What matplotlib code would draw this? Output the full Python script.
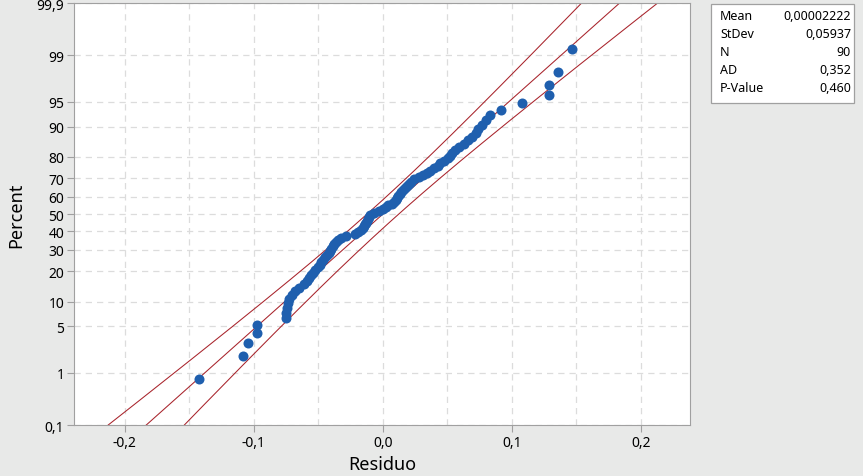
import numpy as np
import matplotlib
matplotlib.use('Agg')
import matplotlib.pyplot as plt
from statistics import NormalDist

plt.rcParams['font.family'] = ['Noto Sans', 'DejaVu Sans']

# residuos ordenados
residuo = [
    -0.1428, -0.1087, -0.1048, -0.0975, -0.0975, -0.0752, -0.0748, -0.0744, -0.0736, -0.0725,
    -0.0702, -0.0678, -0.0647, -0.0609, -0.0585, -0.0570, -0.0554, -0.0539, -0.0523, -0.0504,
    -0.0488, -0.0477, -0.0461, -0.0446, -0.0430, -0.0419, -0.0411, -0.0399, -0.0388, -0.0376,
    -0.0360, -0.0345, -0.0322, -0.0283, -0.0213, -0.0190, -0.0167, -0.0155, -0.0147, -0.0140,
    -0.0128, -0.0120, -0.0116, -0.0109, -0.0097, -0.0066, -0.0027, 0.0004, 0.0027, 0.0043,
    0.0074, 0.0089, 0.0105, 0.0112, 0.0120, 0.0132, 0.0143, 0.0159, 0.0174, 0.0190,
    0.0205, 0.0221, 0.0244, 0.0283, 0.0314, 0.0345, 0.0368, 0.0399, 0.0430, 0.0446,
    0.0477, 0.0508, 0.0523, 0.0539, 0.0562, 0.0593, 0.0632, 0.0663, 0.0694, 0.0725,
    0.0740, 0.0771, 0.0802, 0.0833, 0.0919, 0.1081, 0.1291, 0.1291, 0.1360, 0.1469,
]

# estatisticas da tabela
MEAN = 0.00002222
STDEV = 0.05937
N = 90
stats_labels = ['Mean', 'StDev', 'N', 'AD', 'P-Value']
stats_values = ['0,00002222', '0,05937', '90', '0,352', '0,460']

pct_ticks = [0.1, 1, 5, 10, 20, 30, 40, 50, 60, 70, 80, 90, 95, 99, 99.9]
pct_labels = ['0,1', '1', '5', '10', '20', '30', '40', '50', '60', '70', '80', '90', '95', '99', '99,9']
x_ticks = [-0.2, -0.1, 0.0, 0.1, 0.2]
x_labels = ['-0,2', '-0,1', '0,0', '0,1', '0,2']

nd = NormalDist()
z = lambda p: nd.inv_cdf(p / 100.0)

# posições de plotagem (median ranks)
ranks = np.arange(1, N + 1)
z_pts = np.array([nd.inv_cdf((i - 0.3) / (N + 0.4)) for i in ranks])

fig = plt.figure(figsize=(8.63, 4.77), dpi=100, facecolor='#e8e9e8')
ax = fig.add_axes([0.0857, 0.1069, 0.7138, 0.8847])
ax.set_facecolor('white')

# linha ajustada e bandas de confiança 95%
zz = np.linspace(-3.6, 3.6, 200)
fit = MEAN + STDEV * zz
half = 1.96 * STDEV / np.sqrt(N) * np.sqrt(1 + zz ** 2 / 2)
red = '#a8232b'
ax.plot(fit, zz, color=red, lw=0.75)
ax.plot(fit - half, zz, color=red, lw=0.75)
ax.plot(fit + half, zz, color=red, lw=0.75)

ax.scatter(residuo, z_pts, s=52, color='#1f5fae', zorder=3, linewidths=0)

ax.set_xlim(-0.2395, 0.2380)
ax.set_ylim(z(0.1), z(99.9))
ax.set_yticks([z(p) for p in pct_ticks])
ax.set_yticklabels(pct_labels)
ax.set_xticks(x_ticks)
ax.set_xticklabels(x_labels)
ax.set_xticks([-0.15, -0.05, 0.05, 0.15], minor=True)

ax.grid(True, which='both', axis='x', color='#dcdcdc', ls=(0, (5, 4)), lw=0.9)
ax.grid(True, which='major', axis='y', color='#dcdcdc', ls=(0, (5, 4)), lw=0.9)
ax.set_axisbelow(True)
ax.tick_params(which='major', color='#a0a0a0', length=5, labelsize=10, pad=2)
ax.tick_params(axis='x', which='minor', length=0)
for s in ax.spines.values():
    s.set_color('#a0a0a0')

ax.set_xlabel('Residuo', fontsize=13, fontweight='medium', labelpad=4)
ax.set_ylabel('Percent', fontsize=13, fontweight='medium', labelpad=8)

# tabela de estatisticas
fig.patches.append(plt.Rectangle((711 / 863, 1 - 104 / 477), 143 / 863, 99 / 477,
                                 transform=fig.transFigure, facecolor='white',
                                 edgecolor='#a0a0a0', lw=0.9))
for k, (lab, val) in enumerate(zip(stats_labels, stats_values)):
    yy = 1 - (16 + k * 18.2) / 477
    fig.text(720 / 863, yy, lab, fontsize=9, fontweight='semibold', va='center', ha='left')
    fig.text(851 / 863, yy, val, fontsize=9, fontweight='semibold', va='center', ha='right')

fig.savefig('out.png', dpi=100, facecolor=fig.get_facecolor())
